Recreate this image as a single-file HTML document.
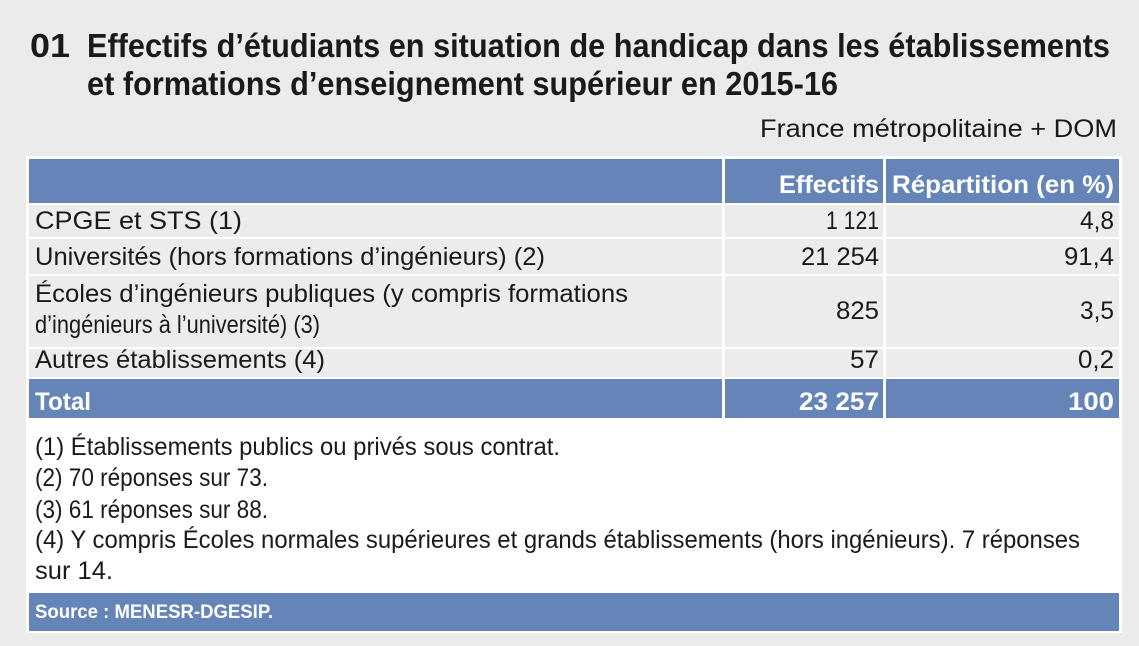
<!DOCTYPE html>
<html><head><meta charset="utf-8"><style>
body{margin:0;background:#ebebeb;}
svg{display:block;font-family:"Liberation Sans",sans-serif;}
</style></head><body>
<svg width="1139" height="646" viewBox="0 0 1139 646">
<rect width="1139" height="646" fill="#ebebeb"/>
<g font-weight="bold" font-size="33" fill="#1a1a1a">
<text x="30" y="57" textLength="40" lengthAdjust="spacingAndGlyphs">01</text>
<text x="87" y="57" textLength="1023" lengthAdjust="spacingAndGlyphs">Effectifs d’étudiants en situation de handicap dans les établissements</text>
<text x="87" y="95" textLength="751" lengthAdjust="spacingAndGlyphs">et formations d’enseignement supérieur en 2015-16</text>
</g>
<text x="760" y="137" font-size="25" fill="#1a1a1a" textLength="357" lengthAdjust="spacingAndGlyphs">France métropolitaine + DOM</text>
<rect x="26" y="156" width="1096" height="477" fill="#fff"/>
<rect x="29" y="159" width="1090" height="44" fill="#6585b8"/>
<rect x="29" y="205" width="1090" height="32" fill="#ececec"/>
<rect x="29" y="239" width="1090" height="35" fill="#ececec"/>
<rect x="29" y="276" width="1090" height="71" fill="#ececec"/>
<rect x="29" y="349" width="1090" height="28" fill="#ececec"/>
<rect x="29" y="379" width="1090" height="39" fill="#6585b8"/>
<rect x="29" y="593" width="1090" height="38" fill="#6585b8"/>
<rect x="722" y="159" width="3" height="259" fill="#fff"/>
<rect x="883" y="159" width="3" height="259" fill="#fff"/>
<g font-weight="bold" font-size="25" fill="#fff" lengthAdjust="spacingAndGlyphs">
<text x="879" y="193" text-anchor="end" textLength="100" lengthAdjust="spacingAndGlyphs">Effectifs</text>
<text x="1114" y="193" text-anchor="end" textLength="222" lengthAdjust="spacingAndGlyphs">Répartition (en %)</text>
<text x="35" y="410" textLength="56" lengthAdjust="spacingAndGlyphs">Total</text>
<text x="879" y="410" text-anchor="end" textLength="80" lengthAdjust="spacingAndGlyphs">23 257</text>
<text x="1114" y="410" text-anchor="end" textLength="46" lengthAdjust="spacingAndGlyphs">100</text>
</g>
<g font-size="25" fill="#1a1a1a">
<text x="35" y="229" textLength="207" lengthAdjust="spacingAndGlyphs">CPGE et STS (1)</text>
<text x="879" y="229" text-anchor="end" textLength="53" lengthAdjust="spacingAndGlyphs">1 121</text>
<text x="1114" y="229" text-anchor="end" textLength="34" lengthAdjust="spacingAndGlyphs">4,8</text>
<text x="35" y="265" textLength="510" lengthAdjust="spacingAndGlyphs">Universités (hors formations d’ingénieurs) (2)</text>
<text x="879" y="265" text-anchor="end" textLength="78" lengthAdjust="spacingAndGlyphs">21 254</text>
<text x="1114" y="265" text-anchor="end" textLength="50" lengthAdjust="spacingAndGlyphs">91,4</text>
<text x="35" y="302" textLength="593" lengthAdjust="spacingAndGlyphs">Écoles d’ingénieurs publiques (y compris formations</text>
<text x="35" y="333" textLength="285" lengthAdjust="spacingAndGlyphs">d’ingénieurs à l’université) (3)</text>
<text x="879" y="319" text-anchor="end" textLength="43" lengthAdjust="spacingAndGlyphs">825</text>
<text x="1114" y="319" text-anchor="end" textLength="34" lengthAdjust="spacingAndGlyphs">3,5</text>
<text x="35" y="368" textLength="290" lengthAdjust="spacingAndGlyphs">Autres établissements (4)</text>
<text x="879" y="368" text-anchor="end" textLength="29" lengthAdjust="spacingAndGlyphs">57</text>
<text x="1114" y="368" text-anchor="end" textLength="36" lengthAdjust="spacingAndGlyphs">0,2</text>
<text x="35" y="455" textLength="525" lengthAdjust="spacingAndGlyphs">(1) Établissements publics ou privés sous contrat.</text>
<text x="35" y="486" textLength="233" lengthAdjust="spacingAndGlyphs">(2) 70 réponses sur 73.</text>
<text x="35" y="518" textLength="233" lengthAdjust="spacingAndGlyphs">(3) 61 réponses sur 88.</text>
<text x="35" y="548" textLength="1045" lengthAdjust="spacingAndGlyphs">(4) Y compris Écoles normales supérieures et grands établissements (hors ingénieurs). 7 réponses</text>
<text x="35" y="579" textLength="78" lengthAdjust="spacingAndGlyphs">sur 14.</text>
</g>
<text x="35" y="618" font-size="19" font-weight="bold" fill="#fff" textLength="238" lengthAdjust="spacingAndGlyphs">Source : MENESR-DGESIP.</text>
</svg>
</body></html>
